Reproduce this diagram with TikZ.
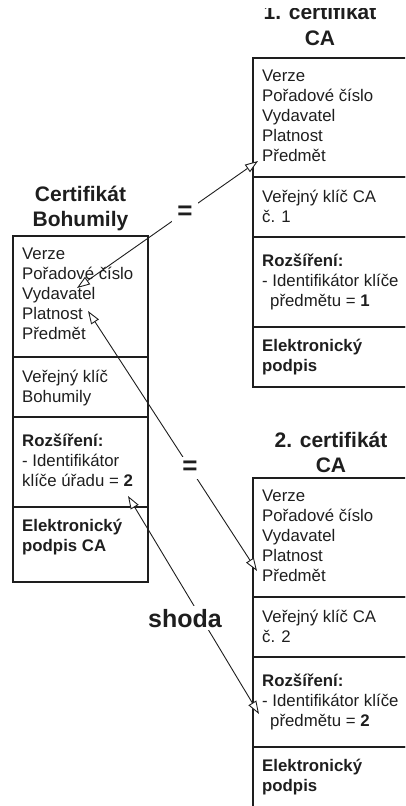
\documentclass[tikz,border=0pt]{standalone}
\usepackage{fontspec}
\setmainfont{Liberation Sans}
\usetikzlibrary{arrows.meta}
\definecolor{ink}{HTML}{1E1E1E}
\newcommand{\bodysize}{\fontsize{16.8}{20}\selectfont}
\newcommand{\titlesize}{\fontsize{21}{25}\selectfont\bfseries}
\begin{document}
\begin{tikzpicture}[x=1pt,y=-1pt,
  sect/.style={draw=ink, line width=1.3pt, anchor=north west, inner sep=0pt, outer sep=0pt},
  lsect/.style={sect, minimum width=135pt},
  rsect/.style={sect, minimum width=200pt},
  body/.style={anchor=north west, align=left, inner sep=0pt, font=\bodysize, text=ink},
  ttl/.style={anchor=north, align=center, inner sep=0pt, font=\titlesize, text=ink},
  link/.style={draw=ink, line width=0.9pt, {Triangle[length=13pt,width=9pt,fill=white]}-{Triangle[length=13pt,width=9pt,fill=white]}},
  tag/.style={fill=white, inner sep=0pt, text=ink, font=\fontsize{26}{30}\selectfont\bfseries}
]
\useasboundingbox (0,0) rectangle (405,806);
\clip (0,0) rectangle (405,806);

% --- certificate of Bohumila
\node[ttl] (Lt) at (80.5,184) {\rule{0pt}{17pt}Certifikát\\Bohumily};
\node[lsect, minimum height=121pt] (L1) at (13,236) {};
\node[lsect, minimum height=60pt]  (L2) at (L1.south west) {};
\node[lsect, minimum height=90pt]  (L3) at (L2.south west) {};
\node[lsect, minimum height=75pt]  (L4) at (L3.south west) {};
\node[body] (L1t) at ([shift={(9,9)}]L1.north west)  {\strut Verze\\Pořadové číslo\\Vydavatel\\Platnost\\Předmět};
\node[body] (L2t) at ([shift={(9,11)}]L2.north west) {\strut Veřejný klíč\\Bohumily};
\node[body] (L3t) at ([shift={(9,15)}]L3.north west) {\strut\textbf{Rozšíření:}\\- Identifikátor\\klíče úřadu = \textbf{2}};
\node[body] (L4t) at ([shift={(9,10)}]L4.north west) {\strut\textbf{Elektronický}\\\textbf{podpis CA}};

% --- first CA certificate (its heading runs past the top edge)
\begin{scope}
  \clip (0,8) rectangle (405,60);
  \node[ttl, font=\fontsize{21}{26}\selectfont\bfseries] (At) at (320,2) {\rule{0pt}{17pt}1. certifikát\\CA};
\end{scope}
\node[rsect, minimum height=119pt] (A1) at (253,58) {};
\node[rsect, minimum height=60pt]  (A2) at (A1.south west) {};
\node[rsect, minimum height=90pt]  (A3) at (A2.south west) {};
\node[rsect, minimum height=60pt]  (A4) at (A3.south west) {};
\node[body] (A1t) at ([shift={(9,9)}]A1.north west)  {\strut Verze\\Pořadové číslo\\Vydavatel\\Platnost\\Předmět};
\node[body] (A2t) at ([shift={(9,11)}]A2.north west) {\strut Veřejný klíč CA\\č. 1};
\node[body] (A3t) at ([shift={(9,15)}]A3.north west) {\strut\textbf{Rozšíření:}\\- Identifikátor klíče\\\hspace*{8pt}předmětu = \textbf{1}};
\node[body] (A4t) at ([shift={(9,10)}]A4.north west) {\strut\textbf{Elektronický}\\\textbf{podpis}};

% --- second CA certificate
\node[ttl] (Bt) at (331,430) {\rule{0pt}{17pt}2. certifikát\\CA};
\node[rsect, minimum height=119pt] (B1) at (253,478) {};
\node[rsect, minimum height=60pt]  (B2) at (B1.south west) {};
\node[rsect, minimum height=90pt]  (B3) at (B2.south west) {};
\node[rsect, minimum height=100pt] (B4) at (B3.south west) {};
\node[body] (B1t) at ([shift={(9,9)}]B1.north west)  {\strut Verze\\Pořadové číslo\\Vydavatel\\Platnost\\Předmět};
\node[body] (B2t) at ([shift={(9,11)}]B2.north west) {\strut Veřejný klíč CA\\č. 2};
\node[body] (B3t) at ([shift={(9,15)}]B3.north west) {\strut\textbf{Rozšíření:}\\- Identifikátor klíče\\\hspace*{8pt}předmětu = \textbf{2}};
\node[body] (B4t) at ([shift={(9,10)}]B4.north west) {\strut\textbf{Elektronický}\\\textbf{podpis}};

% --- links between the fields
\coordinate (issL)  at (77,288);
\coordinate (subA)  at (258,161);
\coordinate (valL)  at (88,311);
\coordinate (subB)  at (257,571);
\coordinate (keyL)  at (128,496);
\coordinate (keyB)  at (259,714);
\draw[link] (issL) -- (subA);
\draw[link] (valL) -- (subB);
\draw[link] (keyL) -- (keyB);

\node[tag, minimum width=26pt, minimum height=22pt] (eq1) at (185,213) {=};
\node[tag, minimum width=26pt, minimum height=22pt] (eq2) at (190,468) {=};
\node[tag, inner sep=3pt, anchor=base, font=\fontsize{25}{30}\selectfont\bfseries] (match) at (185,627) {shoda};
\end{tikzpicture}
\end{document}
